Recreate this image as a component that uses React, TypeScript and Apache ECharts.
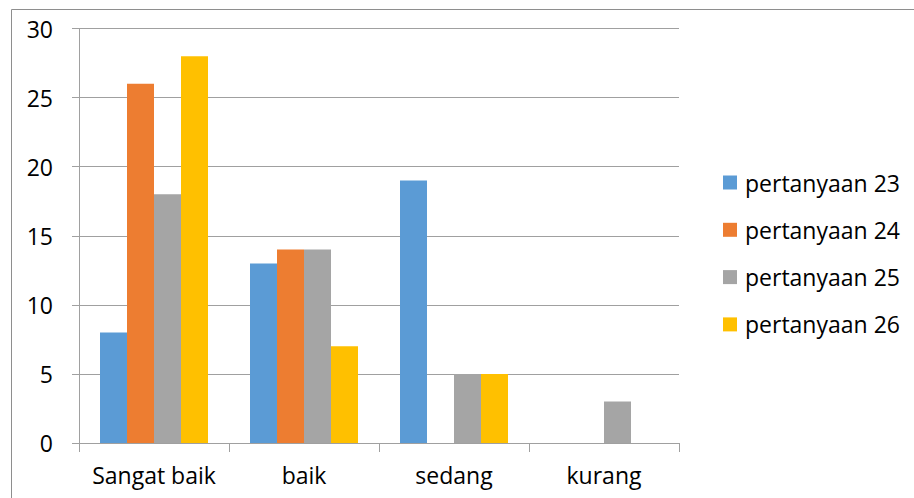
import React, { useEffect, useRef } from "react";
import * as echarts from "echarts";

const categories = ["Sangat baik", "baik", "sedang", "kurang"];
const seriesNames = ["pertanyaan 23", "pertanyaan 24", "pertanyaan 25", "pertanyaan 26"];
const p23 = [8, 13, 19, 0];
const p24 = [26, 14, 0, 0];
const p25 = [18, 14, 5, 3];
const p26 = [28, 7, 5, 0];
const colors = ["#5B9BD5", "#ED7D31", "#A5A5A5", "#FFC000"];

export default function App() {
  const ref = useRef<HTMLDivElement>(null);
  useEffect(() => {
    if (!ref.current) return;
    const chart = echarts.init(ref.current, undefined, { renderer: "svg" });
    const font = "'Open Sans', 'Liberation Sans', sans-serif";
    const data = [p23, p24, p25, p26];
    chart.setOption({
      animation: false,
      color: colors,
      textStyle: { fontFamily: font },
      graphic: [
        {
          type: "rect",
          shape: { x: 11.5, y: 9.5, width: 1000, height: 1000 },
          style: { fill: "none", stroke: "#8e8e8e", lineWidth: 1 },
          silent: true,
        },
      ],
      grid: { left: 79, top: 28.5, right: 235, bottom: 55, containLabel: false },
      legend: {
        orient: "vertical",
        left: 723,
        top: 171,
        padding: 0,
        itemWidth: 14,
        itemHeight: 14,
        itemGap: 24.3,
        icon: "rect",
        textStyle: { fontSize: 23, color: "#000", fontFamily: font, padding: [0, 0, 0, 3] },
        data: seriesNames,
      },
      xAxis: {
        type: "category",
        data: categories,
        axisLine: { show: true, lineStyle: { color: "#a0a0a0", width: 1 } },
        axisTick: { show: true, length: 9, interval: 0, lineStyle: { color: "#a0a0a0" } },
        axisLabel: { fontSize: 23, color: "#000", margin: 20, fontFamily: font, interval: 0 },
      },
      yAxis: {
        type: "value",
        min: 0,
        max: 30,
        interval: 5,
        axisLine: { show: true, lineStyle: { color: "#a0a0a0", width: 1 } },
        axisTick: { show: true, length: 7, lineStyle: { color: "#a0a0a0" } },
        axisLabel: { fontSize: 23, color: "#000", margin: 26, fontFamily: font },
        splitLine: { show: true, lineStyle: { color: "#a0a0a0", width: 1 } },
      },
      series: seriesNames.map((name, i) => ({
        name,
        type: "bar",
        data: data[i],
        barGap: "0%",
        barCategoryGap: "28%",
        itemStyle: { color: colors[i] },
      })),
    });
    return () => chart.dispose();
  }, []);
  return (
    <div
      ref={ref}
      style={{ position: "fixed", left: 0, top: 0, width: 914, height: 498, background: "#fff" }}
    />
  );
}
